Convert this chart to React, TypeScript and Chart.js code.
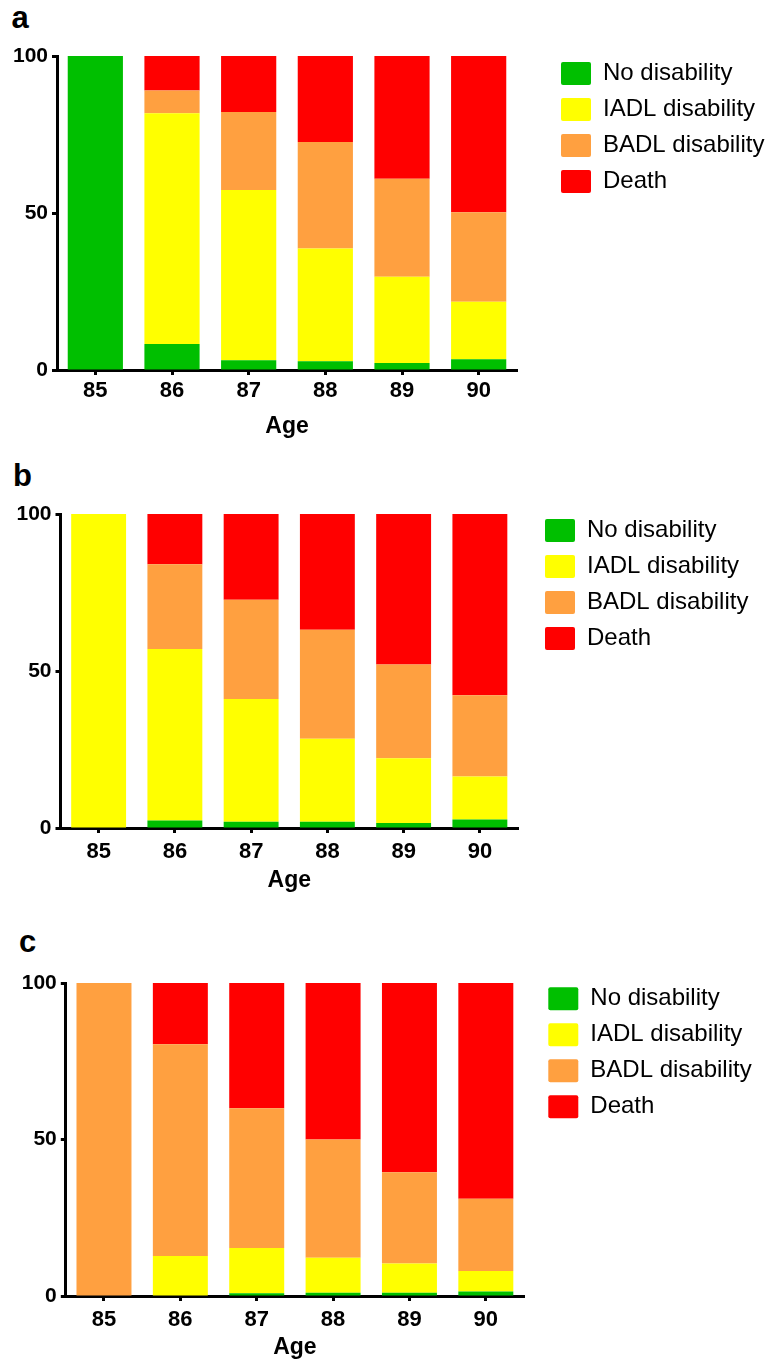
import React, { useEffect, useRef } from 'react';
import { Chart, registerables } from 'chart.js';

Chart.register(...registerables);

const FONT = "'Liberation Sans', Arial, Helvetica, sans-serif";

// ---------- data ----------
const ages = ['85', '86', '87', '88', '89', '90'];
const seriesLabels = ['No disability', 'IADL disability', 'BADL disability', 'Death'];
const seriesColors = ['#00BF00', '#FFFF00', '#FFA040', '#FF0000'];
const yMin = 0;
const yMax = 100;
const yStep = 50;
const xTitle = 'Age';

// panel a
const aNoDisability = [100, 8.3, 3.1, 2.8, 2.2, 3.4];
const aIADL = [0, 73.5, 54.2, 35.9, 27.5, 18.3];
const aBADL = [0, 7.2, 24.9, 33.9, 31.2, 28.5];
const aDeath = [0, 11.0, 17.8, 27.4, 39.1, 49.8];

// panel b
const bNoDisability = [0, 2.4, 2.0, 2.0, 1.6, 2.7];
const bIADL = [100, 54.6, 39.1, 26.4, 20.6, 13.7];
const bBADL = [0, 27.0, 31.6, 34.7, 29.9, 25.9];
const bDeath = [0, 16.0, 27.3, 36.9, 47.9, 57.7];

// panel c
const cNoDisability = [0, 0, 0.9, 1.0, 1.0, 1.4];
const cIADL = [0, 12.8, 14.4, 11.2, 9.4, 6.6];
const cBADL = [100, 67.6, 44.7, 37.8, 29.1, 23.1];
const cDeath = [0, 19.6, 40.0, 50.0, 60.5, 68.9];

// ---------- layout (positions only) ----------
type PanelCfg = {
  letter: string;
  series: number[][];
  top: number;
  height: number;
  plotLeft: number;
  plotRight: number;
  xScaleH: number;
  tickPad: number;
  titlePadBottom: number;
  legendX: number;
  legendTop: number;
  letterX: number;
  letterTop: number;
};

const PANELS: PanelCfg[] = [
  {
    letter: 'a', series: [aNoDisability, aIADL, aBADL, aDeath],
    top: 36, height: 404, plotLeft: 57, plotRight: 517, xScaleH: 70,
    tickPad: 2.7, titlePadBottom: 0, legendX: 561, legendTop: 62,
    letterX: 11.5, letterTop: 2,
  },
  {
    letter: 'b', series: [bNoDisability, bIADL, bBADL, bDeath],
    top: 494, height: 404, plotLeft: 60.5, plotRight: 518, xScaleH: 70,
    tickPad: 5.3, titlePadBottom: 3.9, legendX: 545, legendTop: 519,
    letterX: 13, letterTop: 459.5,
  },
  {
    letter: 'c', series: [cNoDisability, cIADL, cBADL, cDeath],
    top: 963, height: 398, plotLeft: 65.8, plotRight: 524, xScaleH: 65,
    tickPad: 5.7, titlePadBottom: 0, legendX: 548.3, legendTop: 987.3,
    letterX: 19, letterTop: 925.5,
  },
];

const W = 780;
const LEGEND_PAD = 12;

function Panel({ cfg }: { cfg: PanelCfg }) {
  const ref = useRef<HTMLCanvasElement | null>(null);

  useEffect(() => {
    if (!ref.current) return;

    const legendPlace = {
      id: 'legendPlace',
      beforeLayout(chart: any) {
        const lg: any = chart.legend;
        if (lg && !lg.__patched) {
          const orig = lg.fit.bind(lg);
          lg.fit = function () {
            orig();
            this.width = W - cfg.plotRight;
          };
          lg.__patched = true;
        }
      },
      afterLayout(chart: any) {
        const lg: any = chart.legend;
        if (!lg) return;
        const h = lg.bottom - lg.top;
        lg.left = cfg.legendX - LEGEND_PAD;
        lg.right = lg.left + lg.width;
        lg.top = cfg.legendTop - cfg.top - 0.5 - LEGEND_PAD;
        lg.bottom = lg.top + h;
      },
    };

    const chart = new Chart(ref.current, {
      type: 'bar',
      data: {
        labels: ages,
        datasets: seriesLabels.map((label, i) => ({
          label,
          data: cfg.series[i],
          backgroundColor: seriesColors[i],
          borderColor: seriesColors[i],
          borderWidth: 0,
          borderRadius: 0,
          barPercentage: 0.72,
          categoryPercentage: 1.0,
        })),
      },
      options: {
        responsive: false,
        animation: false,
        events: [],
        layout: { padding: { top: 20, left: 0, right: 0, bottom: 0 } },
        plugins: {
          tooltip: { enabled: false },
          title: { display: false },
          legend: {
            display: true,
            position: 'right',
            align: 'start',
            labels: {
              boxWidth: 30,
              boxHeight: 23,
              padding: LEGEND_PAD,
              color: '#000',
              useBorderRadius: true,
              borderRadius: 2,
              font: { family: FONT, size: 24, weight: 'normal' },
            },
          },
        },
        scales: {
          x: {
            stacked: true,
            z: 1,
            offset: true,
            afterFit(scale: any) {
              scale.height = cfg.xScaleH;
            },
            border: { display: true, color: '#000', width: 3 },
            grid: {
              display: true,
              offset: false,
              drawOnChartArea: false,
              drawTicks: true,
              tickLength: 5,
              tickWidth: 3,
              tickColor: '#000',
            },
            ticks: {
              color: '#000',
              padding: cfg.tickPad,
              maxRotation: 0,
              autoSkip: false,
              font: { family: FONT, size: 22, weight: 'bold' },
            },
            title: {
              display: true,
              text: xTitle,
              color: '#000',
              font: { family: FONT, size: 23, weight: 'bold' },
              padding: { top: 0, bottom: cfg.titlePadBottom },
            },
          },
          y: {
            stacked: true,
            z: 1,
            min: yMin,
            max: yMax,
            afterFit(scale: any) {
              scale.width = cfg.plotLeft;
            },
            border: { display: true, color: '#000', width: 3 },
            grid: {
              display: true,
              drawOnChartArea: false,
              drawTicks: true,
              tickLength: 5,
              tickWidth: 3,
              tickColor: '#000',
            },
            ticks: {
              stepSize: yStep,
              color: '#000',
              padding: 4,
              font: { family: FONT, size: 21, weight: 'bold' },
            },
          },
        },
      },
      plugins: [legendPlace as any],
    });

    return () => chart.destroy();
  }, [cfg]);

  return (
    <>
      <div
        style={{
          position: 'absolute',
          left: cfg.letterX,
          top: cfg.letterTop,
          fontFamily: FONT,
          fontWeight: 'bold',
          fontSize: 31,
          lineHeight: '31px',
          color: '#000',
        }}
      >
        {cfg.letter}
      </div>
      <canvas
        ref={ref}
        width={W}
        height={cfg.height}
        style={{ position: 'absolute', left: 0, top: cfg.top, width: W, height: cfg.height }}
      />
    </>
  );
}

export default function App() {
  return (
    <div
      style={{
        position: 'absolute',
        left: 0,
        top: 0,
        width: W,
        height: 1361,
        overflow: 'hidden',
        background: '#fff',
      }}
    >
      {PANELS.map((p) => (
        <Panel key={p.letter} cfg={p} />
      ))}
    </div>
  );
}
